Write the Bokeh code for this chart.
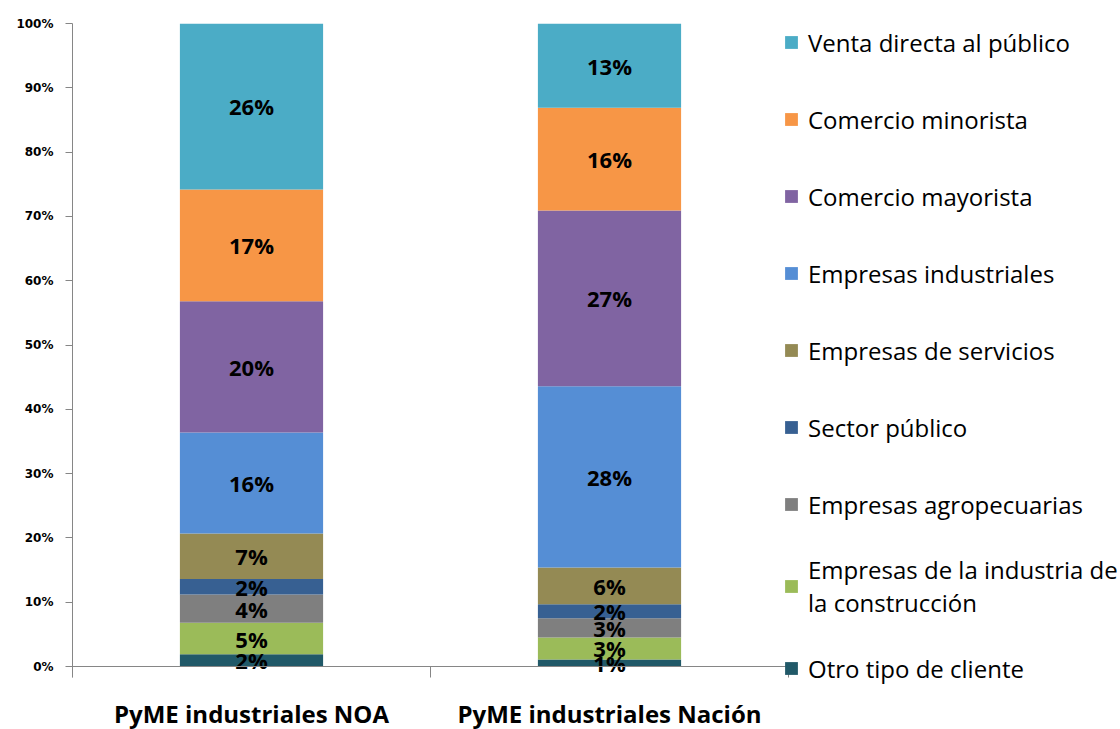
from bokeh.plotting import figure
from bokeh.models import (ColumnDataSource, Range1d, FixedTicker, CustomJSTickFormatter,
                          PrintfTickFormatter, Legend, LegendItem)
from bokeh.core.properties import value
from bokeh.embed import file_html
from bokeh.resources import INLINE
import numpy as np

categories = ["PyME industriales NOA", "PyME industriales Nación"]
series = [
    "Otro tipo de cliente",
    "Empresas de la industria de\nla construcción",
    "Empresas agropecuarias",
    "Sector público",
    "Empresas de servicios",
    "Empresas industriales",
    "Comercio mayorista",
    "Comercio minorista",
    "Venta directa al público",
]
colors = ["#215968", "#9BBB59", "#7F7F7F", "#376092", "#948A54",
          "#558ED5", "#8064A2", "#F79646", "#4BACC6"]
noa = [1.9, 4.9, 4.4, 2.4, 7.1, 15.7, 20.4, 17.4, 25.8]
nacion = [1.1, 3.4, 3.0, 2.2, 5.7, 28.2, 27.3, 16.0, 13.1]
y_ticks = [0, 10, 20, 30, 40, 50, 60, 70, 80, 90, 100]

# layout (pixels)
W, H = 1120, 729
LEFT, TOP = 72, 23
AXIS_RIGHT = 788      # where the category axis ends
ZERO_Y = 666          # pixel row of 0 %
frame_w = W - LEFT
frame_h = H - TOP
n = len(categories)
x_end = n * frame_w / (AXIS_RIGHT - LEFT)
y_start = -100 * (H - ZERO_Y) / (ZERO_Y - TOP)
y_axis_low = -100 * 11 / (ZERO_Y - TOP)

values = [noa, nacion]
keys = [f"s{i}" for i in range(len(series))]
xs = [i + 0.5 for i in range(n)]

data = {"x": xs}
for i, k in enumerate(keys):
    data[k] = [v[i] for v in values]
src = ColumnDataSource(data)

p = figure(width=W, height=H, x_range=Range1d(0, x_end), y_range=Range1d(y_start, 100),
           output_backend="svg", toolbar_location=None,
           min_border_left=LEFT, min_border_top=TOP, min_border_bottom=0, min_border_right=0)
p.outline_line_color = None
p.xgrid.visible = False
p.ygrid.visible = False

rs = p.vbar_stack(keys, x="x", width=0.4, color=colors, line_color=None, source=src)

# data labels
lx, ly, lt = [], [], []
for ci, v in enumerate(values):
    arr = np.array(v)
    tops = np.cumsum(arr)
    mids = tops - arr / 2
    for j in range(len(arr)):
        lx.append(xs[ci])
        ly.append(float(mids[j]))
        lt.append(f"{int(round(arr[j]))}%")
p.text(x="x", y="y", text="t", source=ColumnDataSource(dict(x=lx, y=ly, t=lt)),
       text_align="center", text_baseline="middle", text_font=value("Open Sans"),
       text_font_style="bold", text_font_size="22px", text_color="black")

# x axis
xa = p.xaxis[0]
xa.fixed_location = 0
xa.bounds = (0, n)
xa.ticker = FixedTicker(ticks=xs, minor_ticks=list(range(n + 1)))
xa.formatter = CustomJSTickFormatter(args=dict(labels=categories),
                                     code="return labels[Math.floor(tick)] || '';")
xa.major_tick_out = 0
xa.major_tick_in = 0
xa.minor_tick_out = 11
xa.minor_tick_in = 0
xa.minor_tick_line_color = "#868686"
xa.axis_line_color = "#868686"
xa.major_label_text_font = "Open Sans"
xa.major_label_text_font_style = "bold"
xa.major_label_text_font_size = "24px"
xa.major_label_text_color = "black"
xa.major_label_standoff = 19

# y axis
ya = p.yaxis[0]
ya.bounds = (y_axis_low, 100)
ya.ticker = FixedTicker(ticks=y_ticks)
ya.formatter = PrintfTickFormatter(format="%d%%")
ya.major_tick_out = 7
ya.major_tick_in = 0
ya.minor_tick_line_color = None
ya.axis_line_color = "#868686"
ya.major_tick_line_color = "#868686"
ya.major_label_text_font = "DejaVu Sans"
ya.major_label_text_font_style = "bold"
ya.major_label_text_font_size = "12px"
ya.major_label_text_color = "black"
ya.major_label_standoff = 12

items = [LegendItem(label=series[i], renderers=[rs[i]]) for i in reversed(range(len(series)))]
legend = Legend(items=items, location=(711, 33), orientation="vertical",
                glyph_width=16, glyph_height=16, label_standoff=9,
                label_height=56, spacing=21, padding=0, margin=0,
                border_line_color=None, background_fill_alpha=0,
                label_text_font="Open Sans", label_text_font_size="24px",
                label_text_color="black")
p.add_layout(legend, "center")

open("out.html", "w").write(file_html(p, INLINE))
